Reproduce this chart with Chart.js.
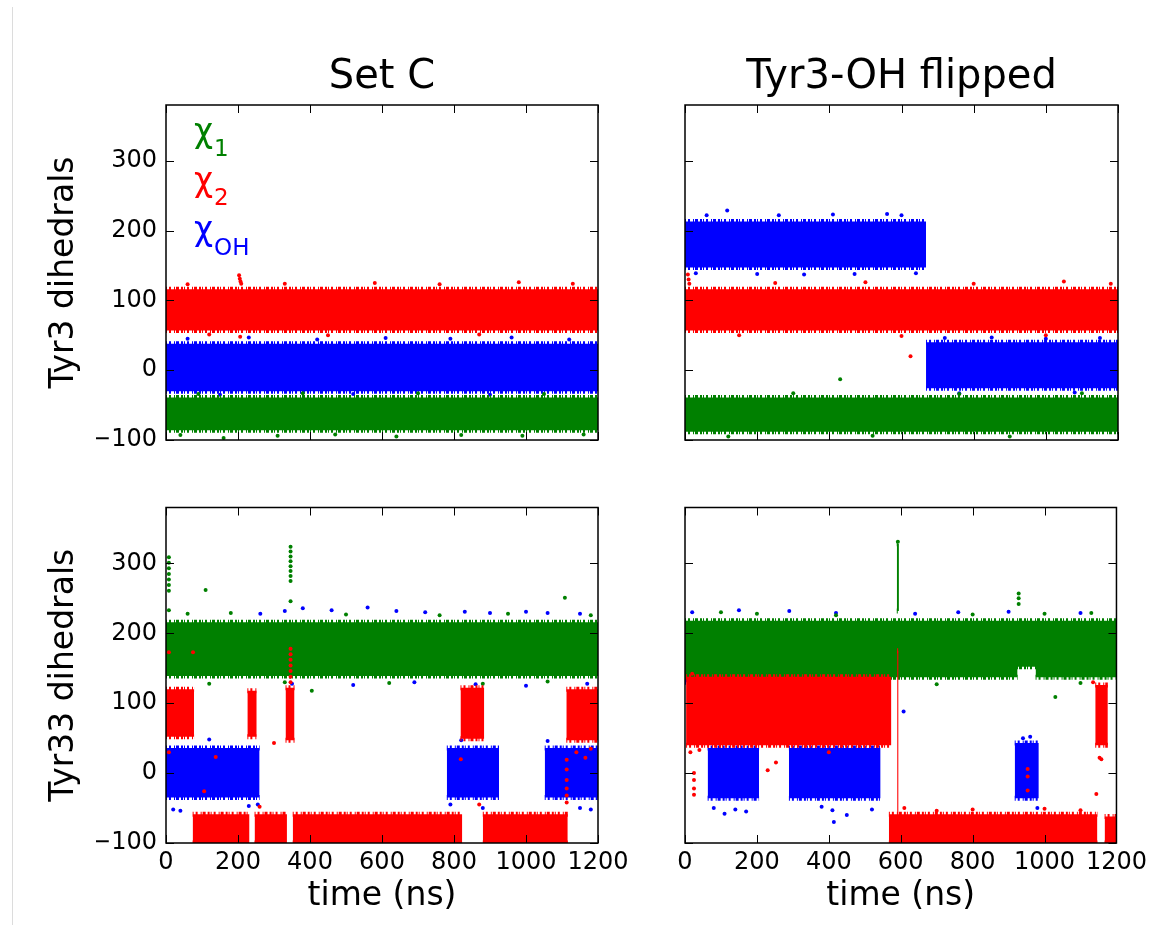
<!DOCTYPE html>
<html>
<head>
<meta charset="utf-8">
<script src="https://cdn.jsdelivr.net/npm/chart.js@4.4.1/dist/chart.umd.min.js"></script>
<style>
  html, body { margin: 0; padding: 0; background: #fff; }
  #fig { position: relative; width: 1152px; height: 929px; overflow: hidden; }
  #fig canvas { position: absolute; left: 0; top: 0; }
  #borde { position: absolute; left: 12px; top: 7px; width: 1px; height: 918px; background: #dcdcdc; }
</style>
</head>
<body>
<div id="fig">
  <div id="borde"></div>
  <canvas id="cTL" width="1152" height="929"></canvas>
  <canvas id="cTR" width="1152" height="929"></canvas>
  <canvas id="cBL" width="1152" height="929"></canvas>
  <canvas id="cBR" width="1152" height="929"></canvas>
</div>
<script>
// Ejes
const xTicks = [0, 200, 400, 600, 800, 1000, 1200];
const yTicks = [-100, 0, 100, 200, 300];
const titulos = ['Set C', 'Tyr3-OH flipped'];
const etiquetasY = ['Tyr3 dihedrals', 'Tyr33 dihedrals'];
const etiquetaX = 'time (ns)';
const leyenda = [['χ', '1', '#008000'], ['χ', '2', '#ff0000'], ['χ', 'OH', '#0000ff']];

// Tramos de cada serie: [inicio (ns), fin (ns), minimo, maximo] en grados
// Set C, Tyr3
const tl_chi1 = [[0, 1200, -86, -39]];
const tl_chi2 = [[0, 1200, 57, 116]];
const tl_chiOH = [[0, 1200, -30, 38]];
const tl_chi1_pts = [[40, -93], [160, -97], [310, -94], [470, -92], [640, -95], [820, -93], [990, -94], [1160, -92], [90, -34], [380, -33], [700, -33], [1050, -34]];
const tl_chi2_pts = [[203, 136], [205, 131], [207, 127], [209, 124], [206, 48], [60, 123], [330, 124], [580, 125], [760, 123], [980, 126], [1130, 124], [120, 51], [450, 50], [870, 51]];
const tl_chiOH_pts = [[60, 45], [230, 47], [420, 44], [610, 46], [790, 45], [960, 47], [1120, 44], [150, -35], [520, -34], [900, -35]];

// Tyr3-OH flipped, Tyr3
const tr_chi1 = [[0, 1200, -88, -39]];
const tr_chi2 = [[0, 1200, 57, 116]];
const tr_chiOH = [[0, 668, 147, 213], [668, 1200, -26, 40]];
const tr_chi1_pts = [[430, -13], [120, -95], [520, -94], [900, -95], [300, -33], [760, -34], [1100, -33]];
const tr_chi2_pts = [[625, 20], [8, 137], [10, 130], [12, 124], [250, 125], [500, 126], [800, 124], [1050, 127], [1180, 124], [150, 50], [600, 49], [1000, 50]];
const tr_chiOH_pts = [[117, 229], [60, 222], [260, 222], [410, 223], [560, 224], [600, 222], [30, 139], [200, 138], [330, 137], [470, 138], [640, 139], [720, 46], [850, 47], [1000, 45], [1150, 46], [760, -33], [1080, -32]];

// Set C, Tyr33
const bl_chi1 = [[0, 1200, 139, 216]];
const bl_chi2 = [[0, 78, 52, 120], [226, 252, 52, 118], [332, 357, 47, 122], [818, 884, 49, 122], [1112, 1200, 47, 120],
  [74, 232, -100, -59], [246, 336, -100, -59], [352, 823, -100, -59], [880, 1116, -100, -59]];
const bl_chiOH = [[0, 260, -35, 36], [780, 925, -35, 36], [1052, 1200, -35, 36], [260, 780, 150, 210], [925, 1052, 150, 210]];
const bl_chi1_pts = [[8, 309], [8, 301], [8, 293], [8, 285], [8, 277], [8, 269], [8, 261], [8, 233], [110, 262],
  [346, 324], [346, 317], [346, 310], [346, 303], [346, 296], [346, 289], [346, 282], [346, 275], [346, 246], [1108, 251],
  [60, 228], [180, 229], [500, 227], [760, 226], [950, 228], [1180, 226], [120, 128], [330, 130], [620, 129], [880, 128], [1060, 131], [405, 118]];
const bl_chi2_pts = [[346, 178], [346, 170], [346, 162], [346, 154], [346, 146], [346, 138], [346, 130], [8, 173], [75, 173],
  [8, 30], [138, 23], [106, -26], [819, 20], [1113, 19], [1113, 5], [1113, -10], [1113, -22], [1113, -32], [1113, -42],
  [1140, 30], [1165, 22], [1180, 35], [300, 43], [260, -48], [870, -45]];
const bl_chiOH_pts = [[262, 228], [330, 232], [380, 236], [460, 233], [560, 237], [640, 232], [720, 230], [830, 231], [900, 229], [1000, 231], [1060, 229], [1150, 228],
  [350, 128], [520, 126], [690, 130], [860, 127], [1000, 125], [1170, 128],
  [20, -52], [40, -54], [230, -47], [255, -45], [790, -45], [880, -50], [1150, -50], [1180, -52], [120, 48], [820, 47], [1060, 46]];

// Tyr3-OH flipped, Tyr33
const br_chi1 = [[0, 1200, 152, 218], [0, 925, 137, 160], [975, 1200, 137, 160], [589, 595, 232, 328]];
const br_chi2 = [[3, 574, 40, 138], [1141, 1176, 40, 126], [567, 1147, -100, -59], [1167, 1200, -100, -62], [590, 594, -100, 175]];
const br_chiOH = [[63, 206, -36, 36], [289, 544, -36, 36], [917, 984, -36, 43], [0, 63, 130, 200], [206, 289, 130, 200], [544, 917, 150, 210], [984, 1200, 150, 210]];
const br_chi1_pts = [[592, 331], [928, 257], [928, 250], [928, 242], [1030, 109], [100, 230], [200, 228], [420, 226], [800, 227], [1000, 228], [1130, 229],
  [150, 128], [380, 130], [700, 127], [1100, 129]];
const br_chi2_pts = [[25, 0], [25, -10], [25, -22], [25, -31], [15, 30], [40, 33], [230, 4], [253, 15], [400, 30], [953, 6], [953, -5], [953, -25],
  [1153, 22], [1158, 20], [1144, -30], [610, -50], [800, -52], [1000, -51], [1100, -53], [700, -54], [1135, 130], [20, 142]];
const br_chiOH_pts = [[608, 88], [80, -50], [110, -58], [140, -52], [170, -55], [380, -48], [410, -53], [414, -70], [450, -60], [520, -52],
  [960, 52], [940, 50], [980, -50], [20, 230], [150, 233], [290, 232], [420, 229], [640, 228], [760, 230], [900, 231], [1100, 229]];

const VERDE = '#008000';
const ROJO = '#ff0000';
const AZUL = '#0000ff';
const FUENTE = '"DejaVu Sans", sans-serif';
const AXW = 70; // ancho fijo del eje y
const AXH = 40; // alto fijo del eje x

// Cada tramo se dibuja como dos lineas rellenas entre si; el borde punteado imita el borde ruidoso
function bandas(tramos, color, order) {
  const out = [];
  tramos.forEach(([t0, t1, lo, hi]) => {
    const base = {
      borderColor: color, backgroundColor: color, borderWidth: 5, borderDash: [1, 2, 2, 3, 1, 1, 3, 2, 2, 1],
      borderCapStyle: 'butt', pointRadius: 0, order, clip: 0
    };
    out.push({ ...base, data: [{ x: t0, y: hi }, { x: t1, y: hi }], fill: '+1' });
    out.push({ ...base, data: [{ x: t0, y: lo }, { x: t1, y: lo }], fill: false });
  });
  return out;
}

function puntos(pts, color, order) {
  return {
    data: pts.map(([x, y]) => ({ x, y })),
    showLine: false, pointRadius: 2, pointBorderWidth: 0,
    pointBackgroundColor: color, borderColor: color, order, clip: 0
  };
}

function series(chi1, chi2, chiOH, p1, p2, pOH) {
  // rojo arriba, verde en medio, azul al fondo
  return [
    ...bandas(chi2, ROJO, 0), puntos(p2, ROJO, 0),
    ...bandas(chi1, VERDE, 1), puntos(p1, VERDE, 1),
    ...bandas(chiOH, AZUL, 2), puntos(pOH, AZUL, 2)
  ];
}

const decorPlugin = {
  id: 'decor',
  afterDraw(chart, args, o) {
    const { ctx, chartArea: a, scales: { x, y } } = chart;
    ctx.save();
    ctx.strokeStyle = '#000';
    ctx.lineWidth = 1;
    ctx.beginPath();
    xTicks.forEach(v => {
      const px = Math.round(x.getPixelForValue(v)) + 0.5;
      ctx.moveTo(px, a.bottom); ctx.lineTo(px, a.bottom - 8);
      ctx.moveTo(px, a.top); ctx.lineTo(px, a.top + 8);
    });
    yTicks.forEach(v => {
      const py = Math.round(y.getPixelForValue(v)) + 0.5;
      ctx.moveTo(a.left, py); ctx.lineTo(a.left + 8, py);
      ctx.moveTo(a.right, py); ctx.lineTo(a.right - 8, py);
    });
    ctx.stroke();
    ctx.lineWidth = 1.5;
    ctx.strokeRect(a.left, a.top, a.right - a.left, a.bottom - a.top);

    ctx.fillStyle = '#000';
    ctx.textBaseline = 'alphabetic';
    if (o.titulo) {
      ctx.font = '40px ' + FUENTE;
      ctx.textAlign = 'center';
      ctx.fillText(o.titulo, (a.left + a.right) / 2, a.top - 17.5);
    }
    if (o.etiquetaX) {
      ctx.font = '33px ' + FUENTE;
      ctx.textAlign = 'center';
      ctx.fillText(o.etiquetaX, (a.left + a.right) / 2, a.bottom + 62);
    }
    if (o.etiquetaY) {
      ctx.save();
      ctx.translate(a.left - 93, (a.top + a.bottom) / 2);
      ctx.rotate(-Math.PI / 2);
      ctx.font = '33px ' + FUENTE;
      ctx.textAlign = 'center';
      ctx.fillText(o.etiquetaY, 0, 0);
      ctx.restore();
    }
    if (o.leyenda) {
      ctx.textAlign = 'left';
      o.leyenda.forEach(([sym, sub, color], i) => {
        const bx = a.left + 28, by = a.top + 36.5 + i * 49.3;
        ctx.fillStyle = color;
        ctx.font = '33px ' + FUENTE;
        ctx.fillText(sym, bx, by);
        const w = ctx.measureText(sym).width;
        ctx.font = '23px ' + FUENTE;
        ctx.fillText(sub, bx + w + 1, by + 14.5);
      });
    }
    ctx.restore();
  }
};

function opciones(area, conX, conY, decor) {
  const tickFont = { family: FUENTE, size: 24 };
  return {
    responsive: false,
    animation: false,
    events: [],
    layout: {
      padding: {
        left: area.left - AXW, top: area.top,
        right: 1152 - area.right, bottom: 929 - area.bottom - AXH
      }
    },
    plugins: { legend: { display: false }, tooltip: { enabled: false }, decor },
    scales: {
      x: {
        type: 'linear', min: 0, max: 1200,
        afterBuildTicks: s => { s.ticks = xTicks.map(v => ({ value: v })); },
        afterFit: s => { s.height = AXH; },
        grid: { display: false, drawTicks: false },
        border: { display: false },
        ticks: {
          display: conX, padding: 5, color: '#000', font: tickFont, maxRotation: 0, autoSkip: false,
          callback: v => String(v)
        }
      },
      y: {
        type: 'linear', min: -100, max: 380,
        afterBuildTicks: s => { s.ticks = yTicks.map(v => ({ value: v })); },
        afterFit: s => { s.width = AXW; },
        grid: { display: false, drawTicks: false },
        border: { display: false },
        ticks: {
          display: conY, padding: 9, color: '#000', font: tickFont,
          callback: v => String(v).replace('-', '\u2212')
        }
      }
    }
  };
}

function panel(id, area, datasets, conX, conY, decor) {
  return new Chart(document.getElementById(id), {
    type: 'line',
    data: { datasets },
    options: opciones(area, conX, conY, decor),
    plugins: [decorPlugin]
  });
}

panel('cTL', { left: 166, top: 105, right: 598, bottom: 440 },
  series(tl_chi1, tl_chi2, tl_chiOH, tl_chi1_pts, tl_chi2_pts, tl_chiOH_pts),
  false, true, { titulo: titulos[0], etiquetaY: etiquetasY[0], leyenda });

panel('cTR', { left: 685, top: 105, right: 1118, bottom: 440 },
  series(tr_chi1, tr_chi2, tr_chiOH, tr_chi1_pts, tr_chi2_pts, tr_chiOH_pts),
  false, false, { titulo: titulos[1] });

panel('cBL', { left: 166, top: 507.5, right: 598, bottom: 843 },
  series(bl_chi1, bl_chi2, bl_chiOH, bl_chi1_pts, bl_chi2_pts, bl_chiOH_pts),
  true, true, { etiquetaY: etiquetasY[1], etiquetaX });

panel('cBR', { left: 685, top: 507.5, right: 1118, bottom: 843 },
  series(br_chi1, br_chi2, br_chiOH, br_chi1_pts, br_chi2_pts, br_chiOH_pts),
  true, false, { etiquetaX });
</script>
</body>
</html>
